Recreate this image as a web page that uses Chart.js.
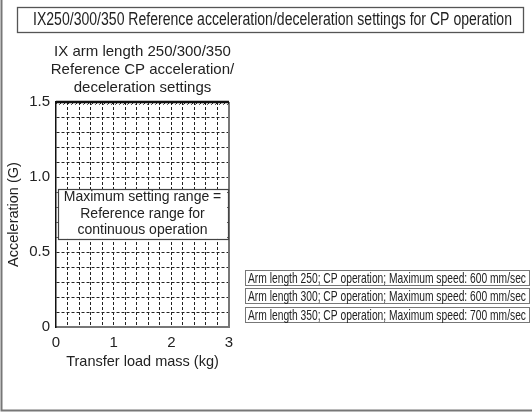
<!DOCTYPE html>
<html>
<head>
<meta charset="utf-8">
<script src="https://cdn.jsdelivr.net/npm/chart.js@4.4.0/dist/chart.umd.min.js"></script>
<style>
  html, body { margin: 0; padding: 0; background: #fff; }
  #wrap { width: 532px; height: 412px; }
</style>
</head>
<body>
<div id="wrap"><canvas id="chart" width="532" height="412"></canvas></div>
<script>
// chart data
const massRange = [0, 3];          // transfer load mass (kg)
const accelRange = [0, 1.5];       // acceleration (G)
const massLabels = [0, 1, 2, 3];
const accelLabels = [0, 0.5, 1.0, 1.5];
const massGridStep = 0.2;
const accelGridStep = 0.1;
const maxAccel = [1.5, 1.5];       // upper limit over the whole mass range
const rangeBox = [0.03, 2.97, 0.587, 0.92]; // x0, x1, y0, y1 of the "maximum setting range" label

const chartTitle = 'IX250/300/350 Reference acceleration/deceleration settings for CP operation';
const subTitle = ['IX arm length 250/300/350', 'Reference CP acceleration/', 'deceleration settings'];
const rangeText = ['Maximum setting range =', 'Reference range for', 'continuous operation'];
const notes = [
    'Arm length 250; CP operation; Maximum speed: 600 mm/sec',
    'Arm length 300; CP operation; Maximum speed: 600 mm/sec',
    'Arm length 350; CP operation; Maximum speed: 700 mm/sec'
];

const FONT = "'Liberation Sans', Arial, sans-serif";
const TXT = '#222';

function near(v, list) {
    return list.some(t => Math.abs(t - v) < 1e-6);
}

// draw text squeezed to a given width (the source uses a condensed face)
function fitText(ctx, text, cx, cy, width, size) {
    ctx.save();
    ctx.font = size + 'px ' + FONT;
    const w = ctx.measureText(text).width;
    const sx = Math.min(1, width / w);
    ctx.translate(cx, cy);
    ctx.scale(sx, 1);
    ctx.textAlign = 'center';
    ctx.textBaseline = 'middle';
    ctx.fillStyle = TXT;
    ctx.fillText(text, 0, 0);
    ctx.restore();
}

function hatch() {
    const c = document.createElement('canvas');
    c.width = 4; c.height = 4;
    const g = c.getContext('2d');
    g.strokeStyle = '#222';
    g.lineWidth = 1;
    g.beginPath();
    g.moveTo(0, 4); g.lineTo(4, 0);
    g.stroke();
    return g.createPattern(c, 'repeat');
}

const decor = {
    id: 'decor',
    beforeDraw(chart) {
        const ctx = chart.ctx;
        ctx.save();
        ctx.fillStyle = '#fff';
        ctx.fillRect(0, 0, chart.width, chart.height);
        ctx.restore();
    },
    afterDatasetsDraw(chart) {
        const ctx = chart.ctx;
        const x = chart.scales.x, y = chart.scales.y;
        const l = x.getPixelForValue(rangeBox[0]), r = x.getPixelForValue(rangeBox[1]);
        const b = y.getPixelForValue(rangeBox[2]), t = y.getPixelForValue(rangeBox[3]);
        ctx.save();
        ctx.fillStyle = '#fff';
        ctx.fillRect(l, t, r - l, b - t);
        ctx.strokeStyle = '#444';
        ctx.lineWidth = 1.2;
        ctx.strokeRect(Math.round(l) + 0.5, Math.round(t) + 0.5, Math.round(r - l), Math.round(b - t));
        ctx.font = '14px ' + FONT;
        ctx.fillStyle = TXT;
        ctx.textAlign = 'center';
        ctx.textBaseline = 'middle';
        const cx = (l + r) / 2, cy = (t + b) / 2;
        rangeText.forEach((s, i) => ctx.fillText(s, cx, cy + (i - 1) * 16.5));
        ctx.restore();
    },
    afterDraw(chart) {
        const ctx = chart.ctx;
        const area = chart.chartArea;
        ctx.save();
        // outer frame (left and bottom only)
        ctx.strokeStyle = '#777';
        ctx.lineWidth = 2;
        ctx.beginPath();
        ctx.moveTo(1.5, 0);
        ctx.lineTo(1.5, 410.5);
        ctx.lineTo(532, 410.5);
        ctx.stroke();

        // main title box
        ctx.strokeStyle = '#555';
        ctx.lineWidth = 1.3;
        ctx.strokeRect(17.5, 7.5, 506, 25);
        fitText(ctx, chartTitle, 272.5, 20.5, 479, 17.5);

        // sub title over plot
        ctx.font = '15px ' + FONT;
        ctx.fillStyle = TXT;
        ctx.textAlign = 'center';
        ctx.textBaseline = 'middle';
        const mid = (area.left + area.right) / 2;
        subTitle.forEach((s, i) => ctx.fillText(s, mid, 52 + i * 18));

        // note boxes on the right
        ctx.strokeStyle = '#777';
        ctx.lineWidth = 1;
        notes.forEach((s, i) => {
            const top = 270 + i * 18.3;
            ctx.strokeRect(245.5, Math.round(top) + 0.5, 284, 15);
            fitText(ctx, s, 387, Math.round(top) + 8.5, 278, 14.5);
        });
        ctx.restore();
    }
};

const gridColor = (ctx, range) => {
    const v = ctx.tick ? ctx.tick.value : 0;
    if (near(v, range)) return 'rgba(0,0,0,0)';
    return '#222';
};

const config = {
    type: 'line',
    data: {
        datasets: [
            {
                // hatch base just under the limit line
                data: [{x: massRange[0], y: maxAccel[0] - 0.018}, {x: massRange[1], y: maxAccel[1] - 0.018}],
                borderWidth: 0,
                pointRadius: 0,
                fill: false
            },
            {
                // upper limit line
                data: [{x: massRange[0], y: maxAccel[0]}, {x: massRange[1], y: maxAccel[1]}],
                borderColor: '#111',
                borderWidth: 2.5,
                pointRadius: 0,
                backgroundColor: hatch(),
                fill: '-1',
                clip: 4
            },
            {
                // right edge of the range
                data: [{x: massRange[1], y: accelRange[0]}, {x: massRange[1], y: accelRange[1]}],
                borderColor: '#777',
                borderWidth: 2,
                pointRadius: 0,
                fill: false,
                clip: 4
            }
        ]
    },
    plugins: [decor],
    options: {
        responsive: false,
        animation: false,
        events: [],
        layout: { padding: { left: 0, right: 303, top: 102, bottom: 0 } },
        plugins: {
            legend: { display: false },
            title: { display: false },
            tooltip: { enabled: false }
        },
        scales: {
            x: {
                type: 'linear',
                min: massRange[0],
                max: massRange[1],
                afterFit: s => { s.height = 85; },
                ticks: {
                    stepSize: massGridStep,
                    maxTicksLimit: 100,
                    autoSkip: false,
                    maxRotation: 0,
                    padding: 7,
                    color: TXT,
                    font: { size: 15, family: FONT },
                    callback: v => near(v, massLabels) ? String(Math.round(v)) : ''
                },
                grid: {
                    drawTicks: false,
                    color: c => gridColor(c, massRange),
                    lineWidth: 1
                },
                border: { color: '#777', width: 2, dash: [3, 2] },
                title: {
                    display: true,
                    text: 'Transfer load mass (kg)',
                    color: TXT,
                    font: { size: 14.5, family: FONT },
                    padding: { top: 0, bottom: 41 }
                }
            },
            y: {
                type: 'linear',
                min: accelRange[0],
                max: accelRange[1],
                afterFit: s => { s.width = 56; },
                ticks: {
                    stepSize: accelGridStep,
                    maxTicksLimit: 100,
                    autoSkip: false,
                    padding: 6,
                    color: TXT,
                    font: { size: 15, family: FONT },
                    callback: v => near(v, accelLabels) ? (Math.abs(v) < 1e-6 ? '0' : v.toFixed(1)) : ''
                },
                grid: {
                    drawTicks: false,
                    color: c => gridColor(c, accelRange),
                    lineWidth: 1
                },
                border: { color: '#111', width: 1.5, dash: [3, 2] },
                title: {
                    display: true,
                    text: 'Acceleration (G)',
                    color: TXT,
                    font: { size: 14.5, family: FONT },
                    padding: { top: 5, bottom: 0 }
                }
            }
        }
    }
};

const ctx = document.getElementById('chart').getContext('2d');
const chart = new Chart(ctx, config);
</script>
</body>
</html>
